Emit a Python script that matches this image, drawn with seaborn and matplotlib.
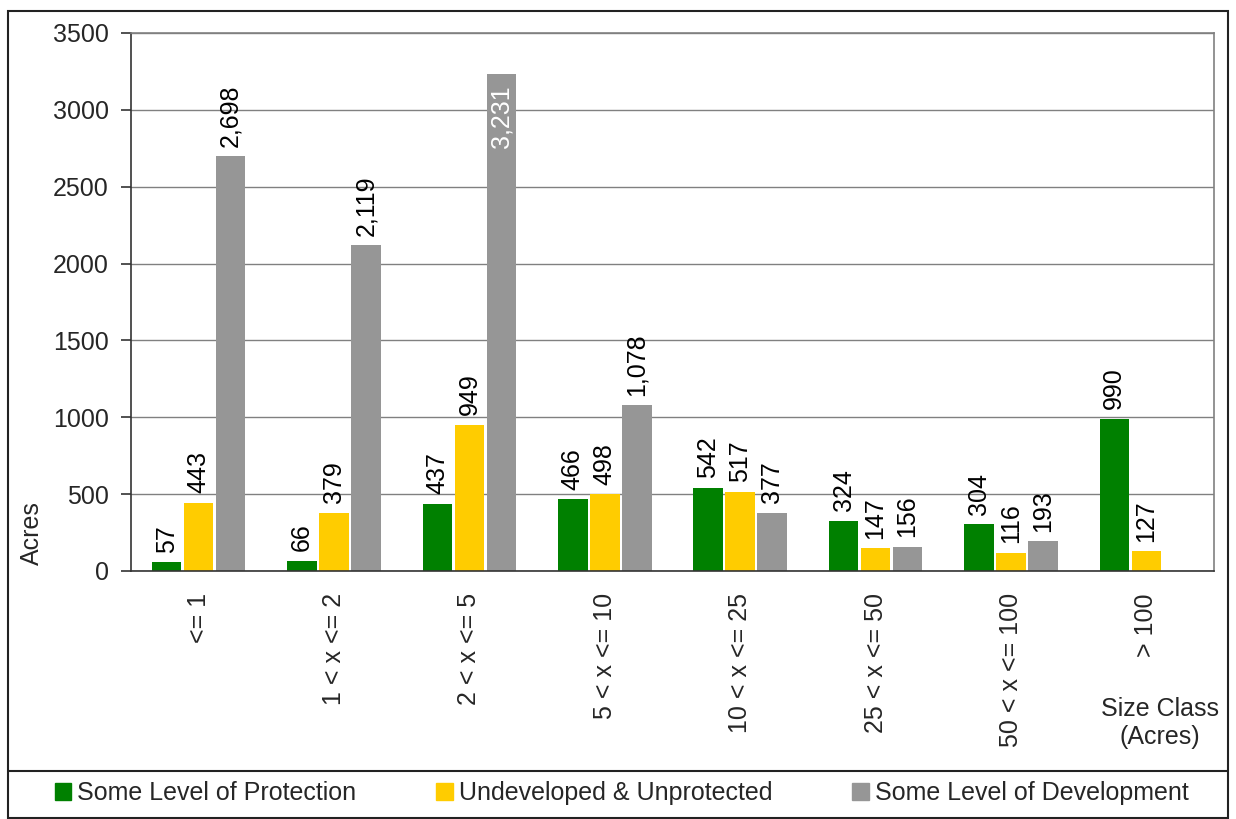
import matplotlib.pyplot as plt
import matplotlib.patches as mpatches
import matplotlib.lines as mlines
import numpy as np
import pandas as pd
import seaborn as sns

# data
size_classes = ['<= 1', '1 < x <= 2', '2 < x <= 5', '5 < x <= 10',
                '10 < x <= 25', '25 < x <= 50', '50 < x <= 100', '> 100']
protection = [57, 66, 437, 466, 542, 324, 304, 990]
unprotected = [443, 379, 949, 498, 517, 147, 116, 127]
development = [2698, 2119, 3231, 1078, 377, 156, 193, np.nan]

series = ['Some Level of Protection', 'Undeveloped & Unprotected', 'Some Level of Development']
colors = {'Some Level of Protection': '#008000',
          'Undeveloped & Unprotected': '#FFCC00',
          'Some Level of Development': '#969696'}

df = pd.DataFrame({
    'size': size_classes * 3,
    'series': [series[0]] * 8 + [series[1]] * 8 + [series[2]] * 8,
    'acres': protection + unprotected + development,
})

sns.set_style("white")
plt.rcParams['font.family'] = ['Liberation Sans', 'DejaVu Sans']
fs = 18

fig = plt.figure(figsize=(12.36, 8.19), dpi=100)
ax = fig.add_axes([131 / 1236, 1 - 571 / 819, (1214 - 131) / 1236, (571 - 33) / 819])

sns.barplot(data=df, x='size', y='acres', hue='series', order=size_classes,
            hue_order=series, palette=colors, saturation=1, width=0.71, gap=0.08,
            errorbar=None, linewidth=0, ax=ax)

ax.set_xlim(-0.5, 7.5)
ax.set_ylim(0, 3500)
ax.set_yticks(range(0, 3501, 500))
ax.yaxis.grid(True, color='#808080', linewidth=1)
ax.set_axisbelow(True)
for s in ['top', 'right']:
    ax.spines[s].set_color('#808080')
for s in ['left', 'bottom']:
    ax.spines[s].set_color('#333333')
for s in ax.spines.values():
    s.set_linewidth(1.2)

ax.set_xticks(np.arange(8))
ax.set_xticklabels(size_classes, rotation=90, fontsize=fs, va='top', ha='center')
ax.set_xticks(np.arange(-0.5, 8, 1), minor=True)
ax.tick_params(axis='x', which='major', length=0, pad=16)
ax.tick_params(axis='x', which='minor', length=7, direction='out', color='#333333', width=1.2)
ax.tick_params(axis='y', length=7, direction='out', color='#333333', width=1.2,
               labelsize=fs, left=True, pad=9)
ax.set_xlabel('')
ax.set_ylabel('Acres', fontsize=fs)
ax.yaxis.set_label_coords(-0.08, 0.07)

# value labels
vals = [protection, unprotected, development]
for cont, v in zip(ax.containers, vals):
    for bar, val in zip(cont.patches, v):
        if np.isnan(val):
            continue
        x = bar.get_x() + bar.get_width() / 2
        txt = f'{int(val):,}'
        if val > 3100:
            ax.annotate(txt, (x, val), xytext=(0, -8), textcoords='offset points',
                        rotation=90, ha='center', va='top', fontsize=fs, color='white')
        else:
            ax.annotate(txt, (x, val), xytext=(0, 7), textcoords='offset points',
                        rotation=90, ha='center', va='bottom', fontsize=fs, color='black')

fig.text(1160 / 1236, 1 - 723 / 819, 'Size Class\n(Acres)', ha='center', va='center',
         fontsize=fs, linespacing=1.25)

# legend at the bottom
ax.get_legend().remove()
handles = [mpatches.Rectangle((0, 0), 1, 1, color=colors[s]) for s in series]
fig.legend(handles, series, loc='center', bbox_to_anchor=(0.503, 1 - 793 / 819),
           ncol=3, frameon=False, fontsize=fs, handlelength=0.65, handleheight=0.65,
           handletextpad=0.25, columnspacing=3.2)

# chart frame and legend separator
fig.add_artist(mpatches.Rectangle((8 / 1236, 1 / 819), 1220 / 1236, 807 / 819,
                                  transform=fig.transFigure, fill=False,
                                  edgecolor='#222222', linewidth=1.5))
fig.add_artist(mlines.Line2D([8 / 1236, 1228 / 1236], [1 - 771 / 819] * 2,
                             transform=fig.transFigure, color='#222222', linewidth=1.5))

plt.savefig('out.png', dpi=100)
